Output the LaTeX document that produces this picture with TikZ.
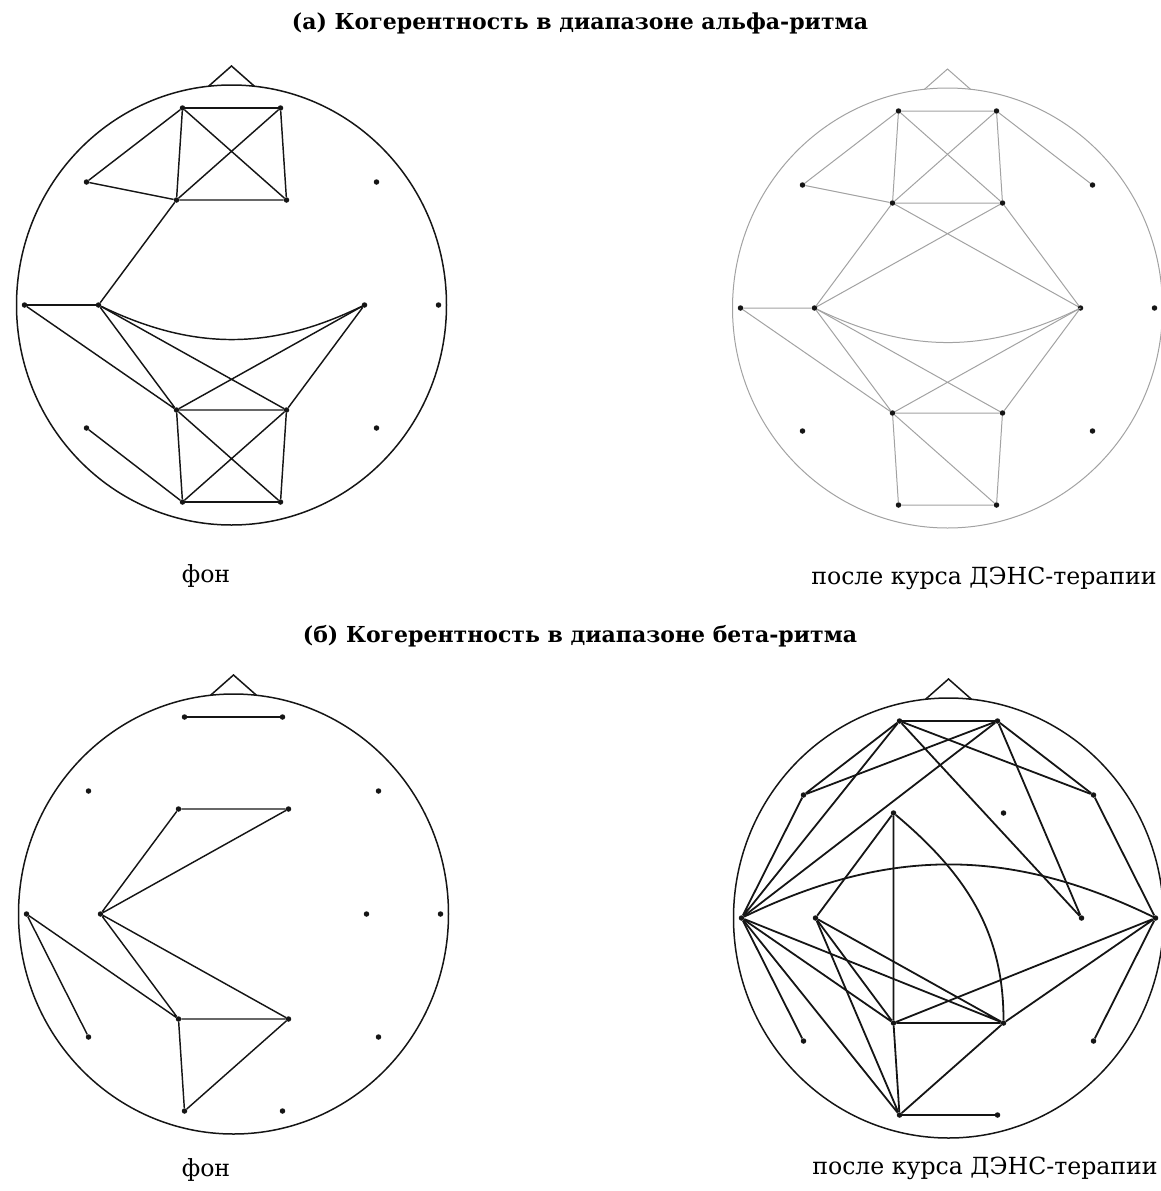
\documentclass[tikz,border=0pt]{standalone}
\usepackage{fontspec}
\setmainfont{DejaVu Serif}
\definecolor{Ink}{HTML}{151515}
\definecolor{Faint}{HTML}{A2A2A2}
\tikzset{
  el/.style={circle,fill=Ink,inner sep=0pt,minimum size=5.5pt},
  link/.style={draw=Ink,line width=1.45pt},
  heavy/.style={link,line width=1.8pt},
  strong/.style={link,line width=2.7pt},
  faint/.style={draw=Faint,line width=1pt},
  head/.style={draw=Ink,line width=1.5pt},
  ttl/.style={font=\bfseries\fontsize{22}{26}\selectfont},
  lbl/.style={font=\fontsize{23.6}{28}\selectfont}
}
% electrode grid, pixel offsets from the head centre
\newcommand\electrodes{%
  \foreach \n/\x/\y in {Fp1/-49/197,Fp2/49/197,F7/-145/123,F8/145/123,
      F3/-55/105,F4/55/105,T3/-207/0,C3/-133/0,C4/133/0,T4/207/0,
      P3/-55/-105,P4/55/-105,T5/-145/-123,T6/145/-123,O1/-49/-197,O2/49/-197}
    \node[el] (\n) at (\x,\y) {};
}
\newcommand\headshape[1]{%
  \draw[#1] (0,0) ellipse [x radius=215,y radius=220];
  \draw[#1] (-23,218.7) -- (0,239) -- (23,218.7);
}

\begin{document}
\begin{tikzpicture}[x=1pt,y=1pt]
  \useasboundingbox (0,0) rectangle (1160,-1191);

  \node[ttl] (ttlA) at (580,-23) {(а) Когерентность в диапазоне альфа-ритма};
  \node[ttl] (ttlB) at (580,-636) {(б) Когерентность в диапазоне бета-ритма};
  \node[lbl] (bgA) at (206,-576) {фон};
  \node[lbl] (afA) at (984,-578) {после курса ДЭНС-терапии};
  \node[lbl] (bgB) at (206,-1170) {фон};
  \node[lbl] (afB) at (985,-1168) {после курса ДЭНС-терапии};

  % alpha, background
  \begin{scope}[shift={(231.5,-305)},name prefix=a-]
    \headshape{head}
    \electrodes
    \draw[strong] (Fp1) -- (Fp2);
    \draw[strong] (T3) -- (C3);
    \draw[strong] (O1) -- (O2);
    \draw[link] (F7) -- (Fp1) -- (F3) -- (F4) -- (Fp2) -- (F3);
    \draw[link] (Fp1) -- (F4);
    \draw[link] (F7) -- (F3) -- (C3) -- (P3) -- (T3);
    \draw[link] (C3) -- (P4) -- (C4) -- (P3) -- (P4) -- (O2) -- (P3) -- (O1) -- (P4);
    \draw[link] (T5) -- (O1);
    \draw[link] (C3) to[bend right=26] (C4);
  \end{scope}

  % alpha, after the course
  \begin{scope}[shift={(947.5,-308)},name prefix=b-]
    \headshape{faint}
    \electrodes
    \draw[faint] (F7) -- (Fp1) -- (Fp2) -- (F8);
    \draw[faint] (Fp1) -- (F3) -- (F4) -- (Fp2) -- (F3);
    \draw[faint] (Fp1) -- (F4);
    \draw[faint] (F7) -- (F3) -- (C3) -- (F4) -- (C4) -- (F3);
    \draw[faint] (T3) -- (C3) -- (P3) -- (T3);
    \draw[faint] (C3) -- (P4) -- (C4) -- (P3) -- (P4) -- (O2) -- (P3) -- (O1) -- (O2);
    \draw[faint] (C3) to[bend right=26] (C4);
  \end{scope}

  % beta, background
  \begin{scope}[shift={(233.5,-914)},name prefix=c-]
    \headshape{head}
    \electrodes
    \draw[strong] (Fp1) -- (Fp2);
    \draw[link] (F4) -- (F3) -- (C3) -- (F4);
    \draw[link] (T5) -- (T3) -- (P3) -- (C3) -- (P4) -- (P3) -- (O1) -- (P4);
  \end{scope}

  % beta, after the course
  \begin{scope}[shift={(948.5,-918)},name prefix=d-]
    \headshape{head}
    \electrodes
    \draw[strong] (Fp1) -- (Fp2);
    \draw[strong] (O1) -- (O2);
    \draw[heavy] (C4) -- (Fp1) -- (F7) -- (Fp2) -- (C4);
    \draw[heavy] (F8) -- (Fp1) -- (T3) -- (F7);
    \draw[heavy] (T3) -- (Fp2) -- (F8) -- (T4) -- (T6);
    \draw[heavy] (T5) -- (T3) -- (P3) -- (F3) -- (C3) -- (P3);
    \draw[heavy] (T3) -- (P4) -- (C3) -- (O1) -- (T3);
    \draw[heavy] (O1) -- (P3) -- (P4) -- (O1);
    \draw[heavy] (P3) -- (T4) -- (P4);
    \draw[heavy] (F3) to[out=-40,in=90] (P4);
    \draw[heavy] (T3) to[bend left=26] (T4);
  \end{scope}
\end{tikzpicture}
\end{document}
